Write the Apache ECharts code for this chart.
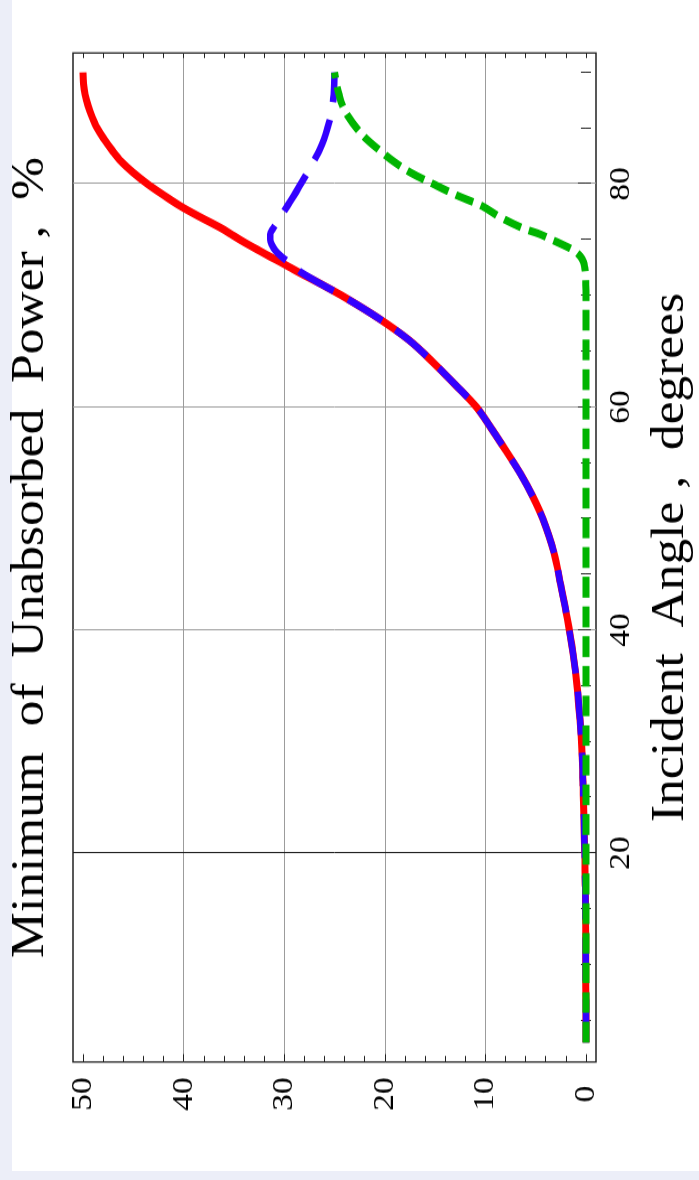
<!DOCTYPE html>
<html><head><meta charset="utf-8">
<script src="https://cdn.jsdelivr.net/npm/echarts@6/dist/echarts.min.js"></script>
<style>
html,body{margin:0;padding:0;width:699px;height:1180px;overflow:hidden;background:#eceef8;}
#paper{position:absolute;left:12px;top:0;width:687px;height:1171px;background:#fff;}
#chart{position:absolute;left:0;top:0;width:1054px;height:699px;transform-origin:0 0;transform:translateY(1180px) rotate(-90deg) scaleX(1.1195);}
</style></head><body>
<div id="paper"></div>
<div id="chart"></div>
<script>
// Incident angle (degrees)
const angles = [3,5,8,11,14,17,20,23,26,29,32,35,38,41,44,47,50,52,54,56,58,60,62,64,66,68,70,71,72,72.5,73,73.5,74,74.5,75,75.5,76,77,78,79,80,81,82,83,84,85,86,87,88,89,90];
// Minimum of unabsorbed power (%)
const redValues = [0,0,0.01,0.02,0.04,0.07,0.12,0.2,0.29,0.4,0.6,0.88,1.3,1.85,2.5,3.2,4.3,5.3,6.5,7.9,9.35,10.9,13.0,15.2,17.6,20.7,24.3,26.3,28.4,29.4,30.4,31.45,32.45,33.45,34.4,35.3,36.2,38.3,40.3,42.0,43.6,45.0,46.2,47.1,47.9,48.6,49.1,49.5,49.8,49.95,50];
const blueValues = [0,0,0.01,0.02,0.04,0.07,0.12,0.2,0.29,0.4,0.6,0.88,1.3,1.85,2.5,3.2,4.3,5.3,6.5,7.9,9.35,10.9,13.0,15.2,17.6,20.7,24.3,26.3,28.2,28.9,29.6,30.3,30.85,31.2,31.4,31.4,31.1,30.4,29.7,29.0,28.35,27.7,27.1,26.5,26.05,25.7,25.4,25.2,25.08,25.02,25.0];
const greenValues = [0,0,0,0,0,0,0,0,0,0,0,0,0,0,0,0,0,0,0,0,0,0,0,0,0,0,0,0.02,0.06,0.12,0.25,0.55,1.15,2.2,3.4,4.6,6.2,8.5,10.3,12.9,15.2,17.4,19.1,20.5,21.8,22.8,23.6,24.2,24.55,24.8,25.0];

// Tick values
const angleTicks = [20,40,60,80];
const angleMinorTicks = [5,10,15,25,30,35,45,50,55,65,70,75,85,90];
const angleAllTicks = [5,10,15,20,25,30,35,40,45,50,55,60,65,70,75,80,85,90];
const powerTicks = [0,10,20,30,40,50];
const powerMinorTicks = [2,4,6,8,12,14,16,18,22,24,26,28,32,34,36,38,42,44,46,48];
const powerAllTicks = [0,2,4,6,8,10,12,14,16,18,20,22,24,26,28,30,32,34,36,38,40,42,44,46,48,50];
const powerGridLines = [10,20,30,40];

const xTitle = 'Incident  Angle ,  degrees';
const yTitle = 'Minimum  of  Unabsorbed  Power ,  %';

const FONT = "'Liberation Serif','Times New Roman',serif";
const X_MIN = 1.26, X_MAX = 91.74, Y_MIN = -1, Y_MAX = 51;

function xAx(extra) {
  return Object.assign({
    type: 'value', min: X_MIN, max: X_MAX, gridIndex: 0,
    axisLine: {show: false}, splitLine: {show: false},
    axisLabel: {show: false}, axisTick: {show: false}
  }, extra);
}
function yAx(extra) {
  return Object.assign({
    type: 'value', min: Y_MIN, max: Y_MAX, gridIndex: 0,
    axisLine: {show: false}, splitLine: {show: false},
    axisLabel: {show: false}, axisTick: {show: false}
  }, extra);
}
const tickStyle = {color: '#222', width: 1};

const chart = echarts.init(document.getElementById('chart'), null, {renderer: 'canvas'});
chart.setOption({
  animation: false,
  backgroundColor: 'transparent',
  grid: {left: 105.4, right: 47.3, top: 73, bottom: 103, show: true, borderColor: '#222', borderWidth: 1.3, backgroundColor: 'transparent'},
  xAxis: [
    xAx({position: 'bottom',
      axisTick: {show: true, inside: true, length: 8, customValues: angleTicks, lineStyle: tickStyle},
      axisLabel: {show: true, customValues: angleTicks, fontFamily: FONT, fontSize: 30, color: '#000', margin: 10},
      splitLine: {show: true, lineStyle: {color: ['#1a1a1a', '#9c9c9c', '#9c9c9c', '#9c9c9c'], width: 1}},
      name: xTitle, nameLocation: 'middle', nameGap: 52,
      nameTextStyle: {fontFamily: FONT, fontSize: 46, color: '#000'}
    }),
    xAx({position: 'bottom',
      axisTick: {show: true, inside: true, length: 5, customValues: angleMinorTicks, lineStyle: tickStyle}}),
    xAx({position: 'top',
      axisTick: {show: true, inside: true, length: 5, customValues: angleAllTicks, lineStyle: tickStyle},
      name: yTitle, nameLocation: 'middle', nameGap: 19,
      nameTextStyle: {fontFamily: FONT, fontSize: 46, color: '#000'}
    })
  ],
  yAxis: [
    yAx({position: 'left',
      axisTick: {show: true, inside: true, length: 7, customValues: powerTicks, lineStyle: tickStyle},
      axisLabel: {show: true, customValues: powerTicks, fontFamily: FONT, fontSize: 30, color: '#000', align: 'center', margin: 28.6}
    }),
    yAx({position: 'left',
      axisTick: {show: true, inside: true, length: 5.4, customValues: powerMinorTicks, lineStyle: tickStyle}}),
    yAx({position: 'right',
      axisTick: {show: true, inside: true, length: 4.5, customValues: powerAllTicks, lineStyle: tickStyle}}),
    yAx({position: 'left',
      axisTick: {show: false, customValues: powerGridLines},
      splitLine: {show: true, lineStyle: {color: '#9c9c9c', width: 1}}})
  ],
  series: [
    {type: 'line', xAxisIndex: 0, yAxisIndex: 0, showSymbol: false, symbol: 'none', smooth: 0.35,
     data: angles.map((a, i) => [a, redValues[i]]),
     lineStyle: {color: '#ff0000', width: 7, cap: 'butt'}},
    {type: 'line', xAxisIndex: 0, yAxisIndex: 0, showSymbol: false, symbol: 'none', smooth: 0.35,
     data: angles.map((a, i) => [a, blueValues[i]]),
     lineStyle: {color: '#3300ff', width: 6.5, type: [39, 16], cap: 'butt'}},
    {type: 'line', xAxisIndex: 0, yAxisIndex: 0, showSymbol: false, symbol: 'none', smooth: 0.35,
     data: angles.map((a, i) => [a, greenValues[i]]),
     lineStyle: {color: '#00b400', width: 7, type: [18.5, 8], cap: 'butt'}}
  ]
});
</script>
</body></html>
